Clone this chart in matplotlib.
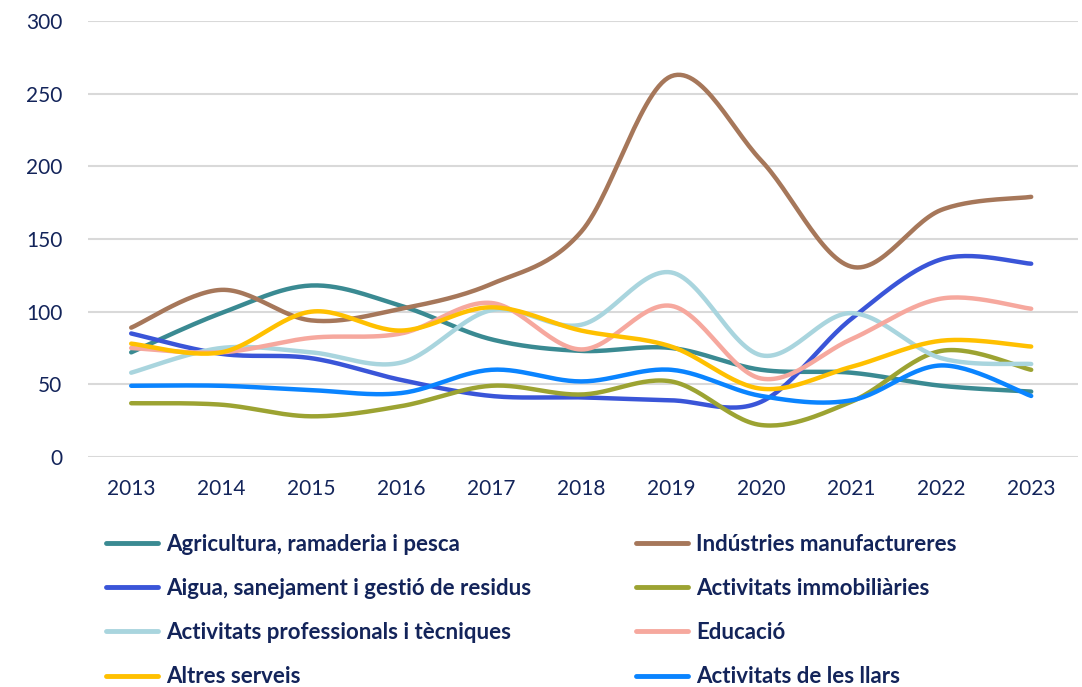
import numpy as np
import matplotlib.pyplot as plt
from matplotlib.lines import Line2D

plt.rcParams['font.family'] = ['Lato', 'DejaVu Sans']

years = [2013, 2014, 2015, 2016, 2017, 2018, 2019, 2020, 2021, 2022, 2023]

agricultura = [72, 99, 118, 104, 81, 73, 75, 60, 58, 49, 45]
industries = [89, 115, 94, 102, 119, 155, 262, 204, 131, 170, 179]
aigua = [85, 71, 68, 53, 42, 41, 39, 38, 95, 136, 133]
immobiliaries = [37, 36, 28, 35, 49, 43, 52, 22, 38, 73, 60]
professionals = [58, 75, 72, 65, 101, 91, 127, 70, 99, 68, 64]
educacio = [75, 72, 82, 85, 106, 74, 104, 54, 81, 109, 102]
altres = [78, 72, 100, 87, 103, 87, 76, 47, 62, 80, 76]
llars = [49, 49, 46, 44, 60, 52, 60, 42, 39, 63, 42]

labels = ["Agricultura, ramaderia i pesca", "Indústries manufactureres",
          "Aigua, sanejament i gestió de residus", "Activitats immobiliàries",
          "Activitats professionals i tècniques", "Educació",
          "Altres serveis", "Activitats de les llars"]
series = [agricultura, industries, aigua, immobiliaries,
          professionals, educacio, altres, llars]
colors = ["#3A8A92", "#A6775A", "#3A55D8", "#9CA332",
          "#A9D5DE", "#F6A89E", "#FFC000", "#0A84FF"]

navy = "#13245A"


def smooth(x, y, n=30):
    # excel-style smoothed line (catmull-rom bezier)
    x = np.asarray(x, float)
    y = np.asarray(y, float)
    px = np.concatenate([[x[0]], x, [x[-1]]])
    py = np.concatenate([[y[0]], y, [y[-1]]])
    xs, ys = [], []
    t = np.linspace(0, 1, n)
    for i in range(len(x) - 1):
        p0 = np.array([px[i + 1], py[i + 1]])
        p3 = np.array([px[i + 2], py[i + 2]])
        c1 = p0 + (np.array([px[i + 2], py[i + 2]]) - np.array([px[i], py[i]])) / 6
        c2 = p3 - (np.array([px[i + 3], py[i + 3]]) - np.array([px[i + 1], py[i + 1]])) / 6
        b = ((1 - t) ** 3)[:, None] * p0 + (3 * (1 - t) ** 2 * t)[:, None] * c1 \
            + (3 * (1 - t) * t ** 2)[:, None] * c2 + (t ** 3)[:, None] * p3
        xs.extend(b[:, 0])
        ys.extend(b[:, 1])
    return xs, ys


fig = plt.figure(figsize=(10.82, 6.87), dpi=100)
ax = fig.add_axes([88 / 1082, 1 - 457 / 687, 990 / 1082, 436 / 687])

for vals, c in zip(series, colors):
    sx, sy = smooth(years, vals)
    ax.plot(sx, sy, color=c, lw=3.2, solid_capstyle='round')

ax.set_xlim(2012.52, 2023.52)
ax.set_ylim(0, 300)
ax.set_yticks(range(0, 301, 50))
ax.set_xticks(years)
ax.grid(axis='y', color='#D9D9D9', lw=1.5)
ax.set_axisbelow(True)
for s in ax.spines.values():
    s.set_visible(False)
ax.tick_params(length=0, labelsize=15, labelcolor=navy)
ax.tick_params(axis='x', pad=16)
ax.tick_params(axis='y', pad=18.5)

handles = [Line2D([], [], color=c, lw=3.5, solid_capstyle='round') for c in colors]
order = [0, 2, 4, 6, 1, 3, 5, 7]
leg = fig.legend([handles[i] for i in order], [labels[i] for i in order],
                 ncol=2, loc='upper left', bbox_to_anchor=(106 / 1082, 1 - 534 / 687),
                 frameon=False, borderpad=0, borderaxespad=0,
                 handlelength=2.35, handletextpad=0.36,
                 columnspacing=4.7, labelspacing=1.04,
                 prop={'weight': 'bold', 'size': 16})
for t in leg.get_texts():
    t.set_color(navy)

fig.savefig("out.png", dpi=100)
